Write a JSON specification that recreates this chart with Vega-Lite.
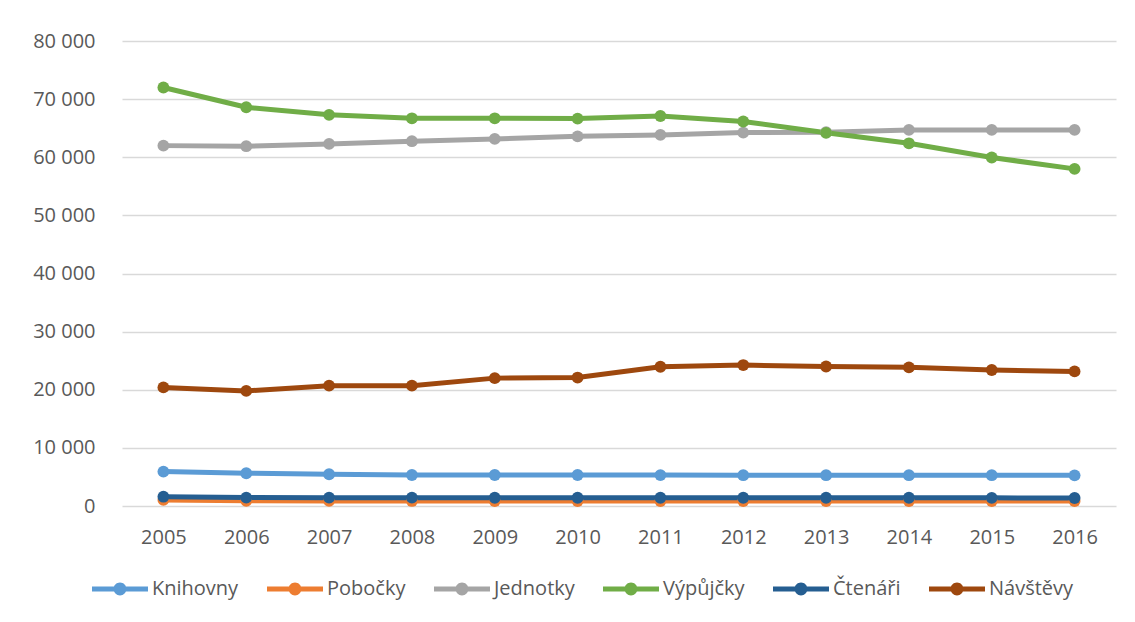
{
  "$schema": "https://vega.github.io/schema/vega-lite/v6.json",
  "width": 994,
  "height": 465,
  "autosize": {"type": "none"},
  "padding": {"left": 122, "top": 41, "right": 19, "bottom": 116},
  "background": "white",
  "config": {
    "view": {"stroke": null},
    "font": "Open Sans",
    "axis": {"labelFont": "Open Sans", "labelColor": "#595959", "labelFontSize": 20}
  },
  "data": {"values": [
    {"year": "2005", "series": "Knihovny", "value": 5920},
    {"year": "2006", "series": "Knihovny", "value": 5640},
    {"year": "2007", "series": "Knihovny", "value": 5460},
    {"year": "2008", "series": "Knihovny", "value": 5340},
    {"year": "2009", "series": "Knihovny", "value": 5340},
    {"year": "2010", "series": "Knihovny", "value": 5330},
    {"year": "2011", "series": "Knihovny", "value": 5320},
    {"year": "2012", "series": "Knihovny", "value": 5300},
    {"year": "2013", "series": "Knihovny", "value": 5300},
    {"year": "2014", "series": "Knihovny", "value": 5300},
    {"year": "2015", "series": "Knihovny", "value": 5300},
    {"year": "2016", "series": "Knihovny", "value": 5280},
    {"year": "2005", "series": "Pobočky", "value": 1050},
    {"year": "2006", "series": "Pobočky", "value": 900},
    {"year": "2007", "series": "Pobočky", "value": 880},
    {"year": "2008", "series": "Pobočky", "value": 870},
    {"year": "2009", "series": "Pobočky", "value": 860},
    {"year": "2010", "series": "Pobočky", "value": 860},
    {"year": "2011", "series": "Pobočky", "value": 860},
    {"year": "2012", "series": "Pobočky", "value": 860},
    {"year": "2013", "series": "Pobočky", "value": 860},
    {"year": "2014", "series": "Pobočky", "value": 860},
    {"year": "2015", "series": "Pobočky", "value": 850},
    {"year": "2016", "series": "Pobočky", "value": 850},
    {"year": "2005", "series": "Jednotky", "value": 62000},
    {"year": "2006", "series": "Jednotky", "value": 61900},
    {"year": "2007", "series": "Jednotky", "value": 62300},
    {"year": "2008", "series": "Jednotky", "value": 62760},
    {"year": "2009", "series": "Jednotky", "value": 63160},
    {"year": "2010", "series": "Jednotky", "value": 63600},
    {"year": "2011", "series": "Jednotky", "value": 63840},
    {"year": "2012", "series": "Jednotky", "value": 64240},
    {"year": "2013", "series": "Jednotky", "value": 64300},
    {"year": "2014", "series": "Jednotky", "value": 64700},
    {"year": "2015", "series": "Jednotky", "value": 64700},
    {"year": "2016", "series": "Jednotky", "value": 64700},
    {"year": "2005", "series": "Výpůjčky", "value": 72000},
    {"year": "2006", "series": "Výpůjčky", "value": 68600},
    {"year": "2007", "series": "Výpůjčky", "value": 67300},
    {"year": "2008", "series": "Výpůjčky", "value": 66700},
    {"year": "2009", "series": "Výpůjčky", "value": 66700},
    {"year": "2010", "series": "Výpůjčky", "value": 66650},
    {"year": "2011", "series": "Výpůjčky", "value": 67100},
    {"year": "2012", "series": "Výpůjčky", "value": 66150},
    {"year": "2013", "series": "Výpůjčky", "value": 64200},
    {"year": "2014", "series": "Výpůjčky", "value": 62400},
    {"year": "2015", "series": "Výpůjčky", "value": 59950},
    {"year": "2016", "series": "Výpůjčky", "value": 58000},
    {"year": "2005", "series": "Čtenáři", "value": 1600},
    {"year": "2006", "series": "Čtenáři", "value": 1450},
    {"year": "2007", "series": "Čtenáři", "value": 1440},
    {"year": "2008", "series": "Čtenáři", "value": 1430},
    {"year": "2009", "series": "Čtenáři", "value": 1420},
    {"year": "2010", "series": "Čtenáři", "value": 1420},
    {"year": "2011", "series": "Čtenáři", "value": 1420},
    {"year": "2012", "series": "Čtenáři", "value": 1420},
    {"year": "2013", "series": "Čtenáři", "value": 1420},
    {"year": "2014", "series": "Čtenáři", "value": 1420},
    {"year": "2015", "series": "Čtenáři", "value": 1400},
    {"year": "2016", "series": "Čtenáři", "value": 1380},
    {"year": "2005", "series": "Návštěvy", "value": 20400},
    {"year": "2006", "series": "Návštěvy", "value": 19800},
    {"year": "2007", "series": "Návštěvy", "value": 20700},
    {"year": "2008", "series": "Návštěvy", "value": 20700},
    {"year": "2009", "series": "Návštěvy", "value": 22000},
    {"year": "2010", "series": "Návštěvy", "value": 22100},
    {"year": "2011", "series": "Návštěvy", "value": 23950},
    {"year": "2012", "series": "Návštěvy", "value": 24250},
    {"year": "2013", "series": "Návštěvy", "value": 24000},
    {"year": "2014", "series": "Návštěvy", "value": 23850},
    {"year": "2015", "series": "Návštěvy", "value": 23400},
    {"year": "2016", "series": "Návštěvy", "value": 23150}
  ]},
  "encoding": {
    "x": {
      "field": "year", "type": "ordinal",
      "scale": {"type": "point", "padding": 0.5},
      "axis": {"title": null, "labelAngle": 0, "ticks": false, "domain": false, "grid": false, "labelPadding": 21}
    },
    "y": {
      "field": "value", "type": "quantitative",
      "scale": {"domain": [0, 80000], "nice": false},
      "axis": {
        "title": null, "values": [0, 10000, 20000, 30000, 40000, 50000, 60000, 70000, 80000],
        "labelExpr": "replace(format(datum.value, ','), ',', ' ')",
        "ticks": false, "domain": false, "grid": true, "gridColor": "#d9d9d9", "gridWidth": 1.5,
        "labelPadding": 27
      }
    },
    "color": {
      "field": "series", "type": "nominal",
      "scale": {
        "domain": ["Knihovny", "Pobočky", "Jednotky", "Výpůjčky", "Čtenáři", "Návštěvy"],
        "range": ["#5B9BD5", "#ED7D31", "#A5A5A5", "#70AD47", "#255E91", "#9E480E"]
      },
      "sort": ["Knihovny", "Pobočky", "Jednotky", "Výpůjčky", "Čtenáři", "Návštěvy"],
      "legend": {
        "title": null, "orient": "none", "direction": "horizontal",
        "legendX": -30, "legendY": 520,
        "symbolType": "M-1,-0.088H1V0.088H-1Z M-0.23,0A0.23,0.23 0 1,1 0.23,0A0.23,0.23 0 1,1 -0.23,0Z",
        "symbolSize": 3136, "symbolStrokeWidth": 0,
        "labelFont": "Open Sans", "labelFontSize": 20, "labelColor": "#595959",
        "labelOffset": 4, "columnPadding": 28
      }
    }
  },
  "layer": [
    {"mark": {"type": "line", "strokeWidth": 5, "strokeCap": "round"}},
    {"mark": {"type": "point", "filled": true, "opacity": 1, "size": 140}}
  ]
}
